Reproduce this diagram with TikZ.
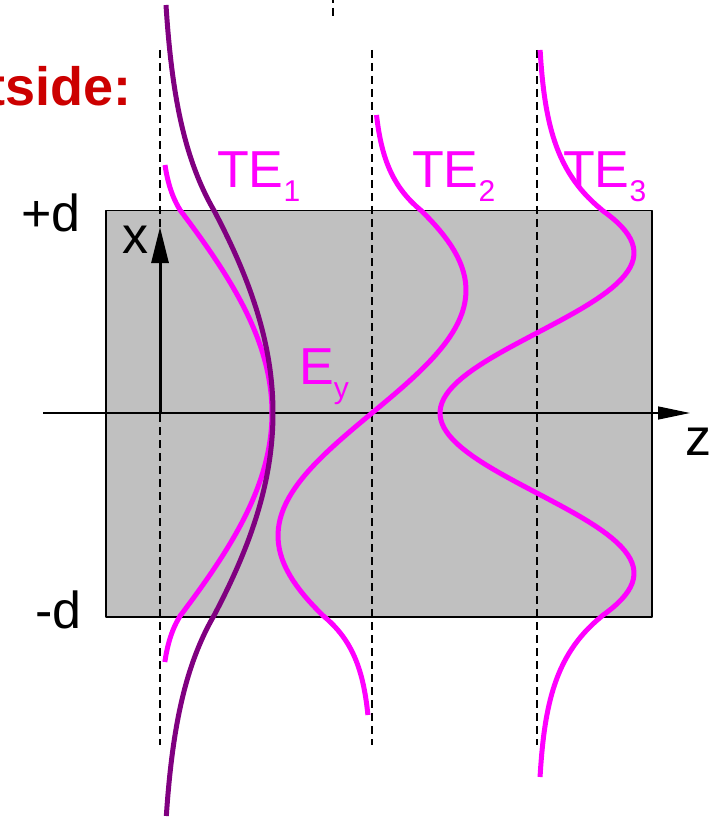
\documentclass[tikz,border=0pt]{standalone}
\usepackage{fontspec}
\setmainfont{Liberation Sans}
\usetikzlibrary{arrows.meta}

\definecolor{coregray}{HTML}{C0C0C0}
\definecolor{modemag}{HTML}{FF00FF}
\definecolor{modepur}{HTML}{800080}
\definecolor{outred}{HTML}{CC0000}
\newcommand{\sublbl}[1]{\raisebox{-14pt}{\fontsize{30}{30}\selectfont #1}}

\begin{document}
\begin{tikzpicture}[x=1pt, y=-1pt, line join=round, guide/.style={black, line width=1.3pt, dash pattern=on 8pt off 5pt}, mode/.style={modemag, line width=5pt}, radmode/.style={modepur, line width=5pt}, lbl/.style={modemag, inner sep=0pt, anchor=base west, font=\fontsize{52}{60}\selectfont}, axlbl/.style={black, inner sep=0pt, anchor=base west, font=\fontsize{52}{60}\selectfont}, axis/.style={line width=1.4pt, -{Triangle[length=32pt,width=13pt]}}]
\useasboundingbox (0,0) rectangle (710,818);
\node[draw=black, line width=1.5pt, fill=coregray, minimum width=546pt, minimum height=406pt, inner sep=0pt, anchor=north west] (core) at (105,210) {};
\foreach \zc in {160,372,537} \draw[guide] (\zc,50) -- (\zc,745);
\draw[guide] (333,-5) -- (333,19);
\coordinate (zstart) at (43,413);
\coordinate (ztip) at (690,413);
\draw[axis] (zstart) -- (ztip);
\coordinate (xorig) at (160,413);
\coordinate (xtip) at (160,227);
\draw[line width=3pt, -{Triangle[length=36pt,width=17pt]}] (xorig) -- (xtip);
\draw[mode] plot[domain=165:210, samples=20] ({160+20.1*exp(-0.031*(210-\x))},\x) -- plot[domain=210:616, samples=80] ({160+112*cos(deg(0.00685*(\x-413)))},\x) -- plot[domain=616:662, samples=20] ({160+20.1*exp(-0.031*(\x-616))},\x);
\draw[mode] plot[domain=115:210, samples=30] ({372+48.5*exp(-0.025*(210-\x))},\x) -- plot[domain=210:616, samples=80] ({372-94*sin(deg(0.0128*(\x-413)))},\x) -- plot[domain=616:715, samples=30] ({372-48.5*exp(-0.025*(\x-616))},\x);
\draw[mode] plot[domain=50:210, samples=40] ({537+65*exp(-0.019*(210-\x))},\x) -- plot[domain=210:616, samples=100] ({537-97*cos(deg(0.0196*(\x-413)))},\x) -- plot[domain=616:777, samples=40] ({537+65*exp(-0.019*(\x-616))},\x);
\draw[radmode] plot[domain=5:210, samples=50] ({160+53.7*exp(-0.0107*(210-\x))},\x) -- plot[domain=210:616, samples=80] ({160+113*cos(deg(0.0053*(\x-413)))},\x) -- plot[domain=616:816, samples=50] ({160+53.7*exp(-0.0107*(\x-616))},\x);
\node[lbl] (te1) at (217,188) {TE\sublbl{1}};
\node[lbl] (te2) at (412,188) {TE\sublbl{2}};
\node[lbl] (te3) at (563,188) {TE\sublbl{3}};
\node[lbl] (ey) at (299,384) {E\sublbl{y}};
\node[axlbl] (plusd) at (21,231) {+d};
\node[axlbl] (minusd) at (35,628) {-d};
\node[axlbl] (xlbl) at (122,253) {x};
\node[axlbl] (zlbl) at (685,455) {z};
\node[anchor=base east, inner sep=0pt, text=outred, font=\fontsize{54}{60}\selectfont\bfseries] (outside) at (132,106) {Outside:};
\end{tikzpicture}
\end{document}
